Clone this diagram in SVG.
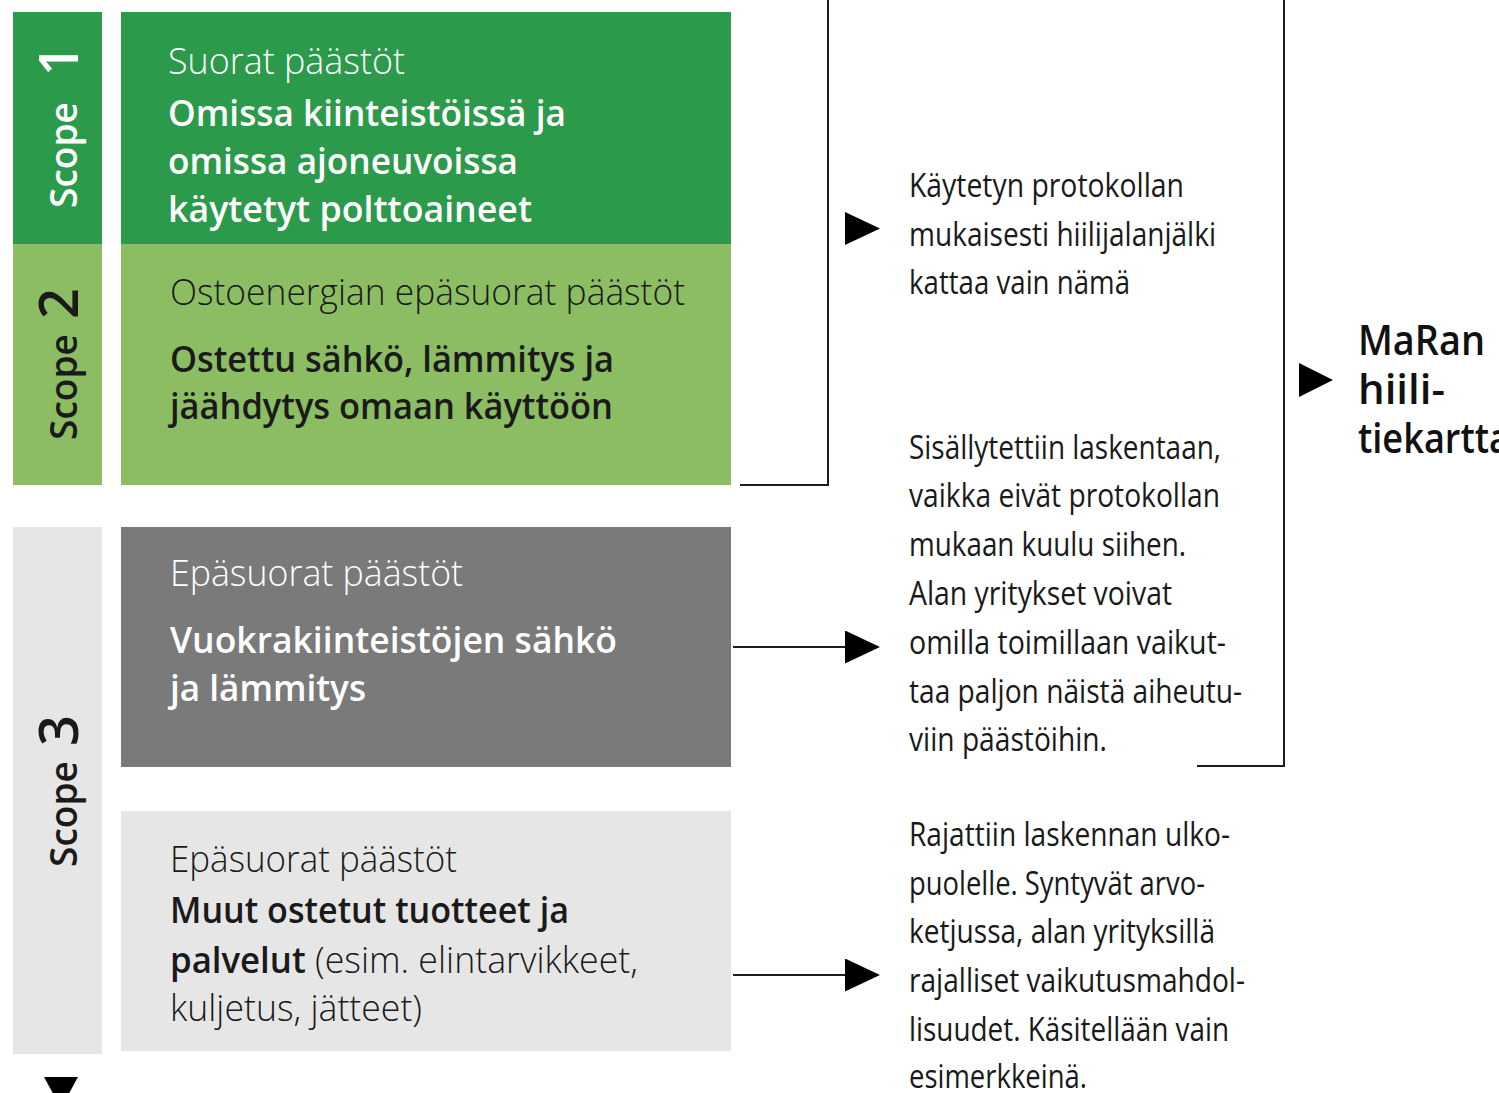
<svg xmlns="http://www.w3.org/2000/svg" width="1499" height="1093" viewBox="0 0 1499 1093">
<style>
text{font-family:"Open Sans","Liberation Sans",sans-serif;}
.lt{font-size:37px;font-weight:300;}
.bd{font-size:36px;font-weight:600;}
.rt{font-size:32px;font-weight:400;fill:#1a1a1a;}
.sc{font-size:38px;font-weight:600;}
.num{font-size:54px;font-weight:600;}
.mr{font-size:42px;font-weight:600;fill:#111;}
.w{fill:#ffffff;}
.k{fill:#1a1a1a;}
.conn{fill:none;stroke:#1e1e1e;stroke-width:2;}
.head{fill:#000;}
</style>
<defs>
<marker id="arr" markerUnits="userSpaceOnUse" markerWidth="36" markerHeight="34" refX="1" refY="16.5" orient="auto">
<path d="M0,0 L35,16.5 L0,33 Z" fill="#000"/>
</marker>
</defs>
<rect width="1499" height="1093" fill="#ffffff"/>

<g id="scope1">
<rect x="13" y="12" width="89" height="232" fill="#2b9a4b"/>
<rect x="121" y="12" width="610" height="232" fill="#2b9a4b"/>
<text class="sc w" transform="translate(77,208) rotate(-90)" textLength="106" lengthAdjust="spacingAndGlyphs">Scope</text>
<text class="num w" transform="translate(78,76) rotate(-90)">1</text>
<text class="lt w" x="168" y="74" textLength="237" lengthAdjust="spacingAndGlyphs">Suorat päästöt</text>
<text class="bd w" x="168" y="126" textLength="398" lengthAdjust="spacingAndGlyphs">Omissa kiinteistöissä ja</text>
<text class="bd w" x="168" y="174" textLength="350" lengthAdjust="spacingAndGlyphs">omissa ajoneuvoissa</text>
<text class="bd w" x="168" y="222" textLength="364" lengthAdjust="spacingAndGlyphs">käytetyt polttoaineet</text>
</g>

<g id="scope2">
<rect x="13" y="244" width="89" height="241" fill="#8cbd63"/>
<rect x="121" y="244" width="610" height="241" fill="#8cbd63"/>
<text class="sc k" transform="translate(77,440) rotate(-90)" textLength="106" lengthAdjust="spacingAndGlyphs">Scope</text>
<text class="num k" transform="translate(78,319) rotate(-90)">2</text>
<text class="lt k" x="170" y="305" textLength="515" lengthAdjust="spacingAndGlyphs">Ostoenergian epäsuorat päästöt</text>
<text class="bd k" x="170" y="372" textLength="444" lengthAdjust="spacingAndGlyphs">Ostettu sähkö, lämmitys ja</text>
<text class="bd k" x="170" y="419" textLength="443" lengthAdjust="spacingAndGlyphs">jäähdytys omaan käyttöön</text>
</g>

<g id="scope3">
<rect x="13" y="527" width="89" height="527" fill="#e6e6e6"/>
<text class="sc k" transform="translate(77,867) rotate(-90)" textLength="106" lengthAdjust="spacingAndGlyphs">Scope</text>
<text class="num k" transform="translate(78,746) rotate(-90)">3</text>
<polygon points="44,1077 78,1077 61,1108" fill="#000"/>
</g>

<g id="rented">
<rect x="121" y="527" width="610" height="240" fill="#7a7a7a"/>
<text class="lt w" x="170" y="586" textLength="293" lengthAdjust="spacingAndGlyphs">Epäsuorat päästöt</text>
<text class="bd w" x="170" y="653" textLength="447" lengthAdjust="spacingAndGlyphs">Vuokrakiinteistöjen sähkö</text>
<text class="bd w" x="170" y="701" textLength="196" lengthAdjust="spacingAndGlyphs">ja lämmitys</text>
</g>

<g id="other">
<rect x="121" y="811" width="610" height="240" fill="#e6e6e6"/>
<text class="lt k" x="170" y="872" textLength="287" lengthAdjust="spacingAndGlyphs">Epäsuorat päästöt</text>
<text class="bd k" x="170" y="923" textLength="399" lengthAdjust="spacingAndGlyphs">Muut ostetut tuotteet ja</text>
<text x="170" y="973" class="k" font-size="36" textLength="468" lengthAdjust="spacingAndGlyphs"><tspan font-weight="600">palvelut</tspan><tspan font-weight="300" font-size="37"> (esim. elintarvikkeet,</tspan></text>
<text class="lt k" x="170" y="1021" textLength="252" lengthAdjust="spacingAndGlyphs">kuljetus, jätteet)</text>
</g>

<g id="note1">
<text class="rt" x="909" y="197" textLength="275" lengthAdjust="spacingAndGlyphs">Käytetyn protokollan</text>
<text class="rt" x="909" y="246" textLength="307" lengthAdjust="spacingAndGlyphs">mukaisesti hiilijalanjälki</text>
<text class="rt" x="909" y="294" textLength="221" lengthAdjust="spacingAndGlyphs">kattaa vain nämä</text>
</g>

<g id="note2">
<text class="rt" x="909" y="459" textLength="312" lengthAdjust="spacingAndGlyphs">Sisällytettiin laskentaan,</text>
<text class="rt" x="909" y="507" textLength="311" lengthAdjust="spacingAndGlyphs">vaikka eivät protokollan</text>
<text class="rt" x="909" y="556" textLength="277" lengthAdjust="spacingAndGlyphs">mukaan kuulu siihen.</text>
<text class="rt" x="909" y="605" textLength="263" lengthAdjust="spacingAndGlyphs">Alan yritykset voivat</text>
<text class="rt" x="909" y="654" textLength="317" lengthAdjust="spacingAndGlyphs">omilla toimillaan vaikut-</text>
<text class="rt" x="909" y="703" textLength="333" lengthAdjust="spacingAndGlyphs">taa paljon näistä aiheutu-</text>
<text class="rt" x="909" y="751" textLength="198" lengthAdjust="spacingAndGlyphs">viin päästöihin.</text>
</g>

<g id="note3">
<text class="rt" x="909" y="846" textLength="321" lengthAdjust="spacingAndGlyphs">Rajattiin laskennan ulko-</text>
<text class="rt" x="909" y="895" textLength="296" lengthAdjust="spacingAndGlyphs">puolelle. Syntyvät arvo-</text>
<text class="rt" x="909" y="943" textLength="306" lengthAdjust="spacingAndGlyphs">ketjussa, alan yrityksillä</text>
<text class="rt" x="909" y="992" textLength="336" lengthAdjust="spacingAndGlyphs">rajalliset vaikutusmahdol-</text>
<text class="rt" x="909" y="1041" textLength="320" lengthAdjust="spacingAndGlyphs">lisuudet. Käsitellään vain</text>
<text class="rt" x="909" y="1088" textLength="178" lengthAdjust="spacingAndGlyphs">esimerkkeinä.</text>
</g>

<g id="roadmap">
<text class="mr" x="1358" y="355" textLength="127" lengthAdjust="spacingAndGlyphs">MaRan</text>
<text class="mr" x="1358" y="404" textLength="87" lengthAdjust="spacingAndGlyphs">hiili-</text>
<text class="mr" x="1358" y="453" textLength="152" lengthAdjust="spacingAndGlyphs">tiekartta</text>
</g>

<g id="connectors">
<path class="conn" d="M740,485 H828 V0"/>
<path class="conn" d="M1197,766 H1284 V0"/>
<polygon class="head" points="845,212 880,228.5 845,245"/>
<polygon class="head" points="1299,363 1333,380 1299,397"/>
<line class="conn" x1="733" y1="647" x2="846" y2="647" marker-end="url(#arr)"/>
<line class="conn" x1="733" y1="975" x2="846" y2="975" marker-end="url(#arr)"/>
</g>
</svg>
